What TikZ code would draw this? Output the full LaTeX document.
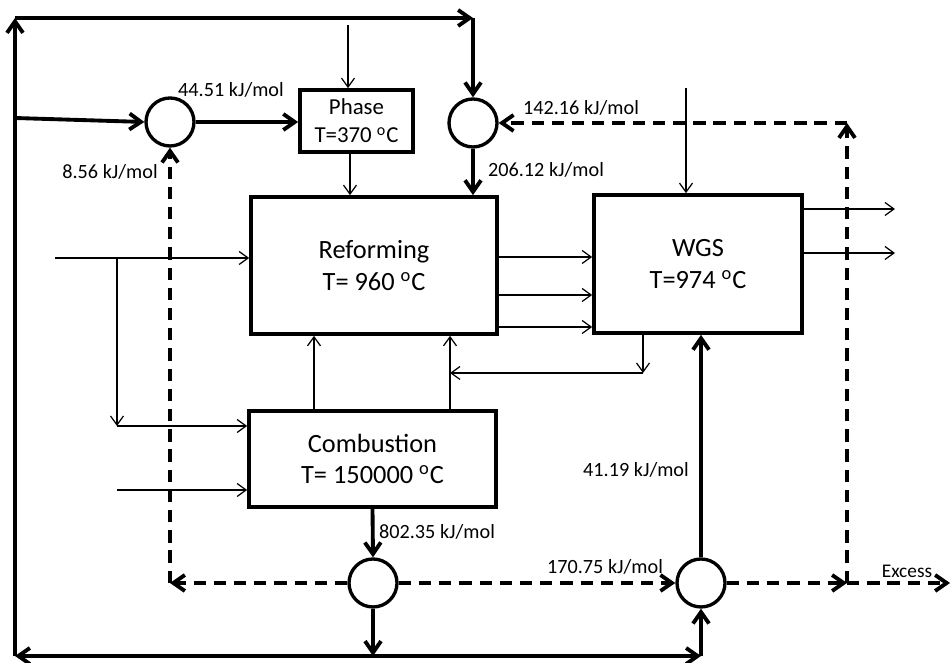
\documentclass[tikz,border=0pt]{standalone}
\usepackage{fontspec}
\setmainfont{Carlito}
\usetikzlibrary{arrows.meta, calc, positioning}
\tikzset{
  % block and mixer looks, shared by the whole sheet
  unitbox/.style  = {draw, line width=2.1pt, inner sep=0pt, align=center,
                     font=\fontsize{15}{18}\selectfont},
  mixer/.style    = {circle, draw, line width=1.9pt, minimum size=0.96cm, inner sep=0pt},
  heatline/.style = {-{Straight Barb[length=2.3mm, width=3.2mm]}, line width=2.2pt},
  heatdash/.style = {heatline, dash pattern=on 7pt off 4.5pt},
  massline/.style = {-{Straight Barb[length=1.8mm, width=2.6mm]}, line width=0.7pt},
  klbl/.style     = {font=\fontsize{11.5}{13}\selectfont, inner sep=0pt},
}

\begin{document}
\begin{tikzpicture}[x=1cm, y=1cm]
  \useasboundingbox (0,0) rectangle (19.02,13.26);
  % process units
  \node[unitbox, minimum width=2.26cm, minimum height=1.24cm,
        font=\fontsize{13}{16}\selectfont] (phase) at (7.13,10.84) {Phase\\T=370 \textsuperscript{o}C};
  \node[unitbox, minimum width=4.92cm, minimum height=2.74cm] (reform) at (7.48,7.95) {Reforming\\T= 960 \textsuperscript{o}C};
  \node[unitbox, minimum width=4.16cm, minimum height=2.76cm] (wgs) at (13.96,7.98) {WGS\\T=974 \textsuperscript{o}C};
  \node[unitbox, minimum width=4.94cm, minimum height=1.92cm] (comb) at (7.45,4.08) {Combustion\\T= 150000 \textsuperscript{o}C};
  % heat mixers
  \node[mixer] (mixA) at (3.4,10.82) {};
  \node[mixer] (mixB) at (9.46,10.8) {};
  \node[mixer] (mixC) at (7.46,1.6) {};
  \node[mixer] (mixD) at (14.02,1.6) {};
  % corner points of the heat loops
  \coordinate (botL) at (0.3,0.14);
  \coordinate (botR) at (14.02,0.14);
  \coordinate (topL) at (0.3,12.9);
  \coordinate (topR) at (9.46,12.9);
  \coordinate (botM) at (7.46,0.14);
  \coordinate (tapA) at (0.3,10.9);
  \coordinate (dashL) at (3.4,1.6);
  \coordinate (dashR) at (16.94,1.6);
  \coordinate (dashU) at (16.94,10.8);
  \coordinate (excess) at (19.0,1.6);
  % mass streams (thin)
  \coordinate (phin) at (6.96,12.76);
  \coordinate (wgsin) at (13.72,11.5);
  \coordinate (feed) at (1.1,8.1);
  \coordinate (split) at (2.34,8.1);
  \coordinate (cornr) at (2.34,4.74);
  \coordinate (air) at (2.34,3.46);
  \coordinate (wgsdn) at (12.86,5.8);
  \coordinate (recy) at (9.0,5.8);
  \coordinate (out1) at (17.9,9.08);
  \coordinate (out2) at (17.9,8.2);
  \draw[massline] (phin) -- (phin |- phase.north);
  \draw[massline] ([xshift=-0.13cm]phase.south) -- ([xshift=-0.13cm]phase.south |- reform.north);
  \draw[massline] (wgsin) -- (wgsin |- wgs.north);
  \draw[massline] (feed) -- (feed -| reform.west);
  \draw[massline] (split) -- (cornr);
  \draw[massline] (cornr) -- (cornr -| comb.west);
  \draw[massline] (air) -- (air -| comb.west);
  \foreach \yy in {8.12, 7.36, 6.72}
    \draw[massline] (reform.east |- 0,\yy) -- (wgs.west |- 0,\yy);
  \draw[massline] (wgs.east |- out1) -- (out1);
  \draw[massline] (wgs.east |- out2) -- (out2);
  \draw[massline] (wgs.south -| wgsdn) -- (wgsdn);
  \draw[massline] (wgsdn) -- (recy);
  \draw[massline] (comb.north -| 6.28,0) -- (reform.south -| 6.28,0);
  \draw[massline] (comb.north -| recy) -- (reform.south -| recy);
  % heat streams (thick)
  \draw[heatline] (botM) -- (botL);
  \draw[heatline] (botM) -- (botR);
  \draw[heatline] (botL) -- (topL);
  \draw[heatline] (topL) -- (topR);
  \draw[heatline] (topR) -- (mixB.north);
  \draw[heatline] (tapA) -- (mixA.west);
  \draw[heatline] (mixA.east) -- (mixA.east -| phase.west);
  \draw[heatline] (mixB.south) -- (mixB.south |- reform.north);
  \draw[heatline] (comb.south) -- (mixC.north);
  \draw[heatline] (mixC.south) -- (botM);
  \draw[heatline] (botR) -- (mixD.south);
  \draw[heatline] (mixD.north) -- (mixD.north |- wgs.south);
  % surplus heat (dashed)
  \draw[heatdash] (mixC.west) -- (dashL);
  \draw[heatdash] (dashL) -- (mixA.south);
  \draw[heatdash] (mixC.east) -- (mixD.west);
  \draw[heatdash] (mixD.east) -- (dashR);
  \draw[heatdash] (dashR) -- (excess);
  \draw[heatdash] (dashR) -- (dashU);
  \draw[heatdash] (dashU) -- (mixB.east);
  % duties
  \node[klbl] (qA) at (4.62,11.46) {44.51 kJ/mol};
  \node[klbl] (qB) at (2.2,9.82) {8.56 kJ/mol};
  \node[klbl] (qC) at (11.62,11.1) {142.16 kJ/mol};
  \node[klbl] (qD) at (10.92,9.86) {206.12 kJ/mol};
  \node[klbl] (qE) at (8.74,2.62) {802.35 kJ/mol};
  \node[klbl] (qF) at (12.72,3.86) {41.19 kJ/mol};
  \node[klbl] (qG) at (12.1,1.92) {170.75 kJ/mol};
  \node[klbl, font=\fontsize{11}{13}\selectfont] (qX) at (18.14,1.84) {Excess};
\end{tikzpicture}
\end{document}
